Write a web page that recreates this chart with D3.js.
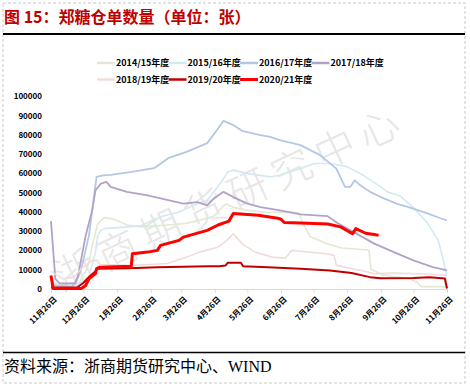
<!DOCTYPE html>
<html lang="zh">
  <head>
    <meta charset="UTF-8" />
    <script src="https://cdn.jsdelivr.net/npm/d3@7"></script>
    <title>郑糖仓单数量</title>
    <style>
      body {
        margin: 0;
        background: white;
      }
      .axis text {
        font-family: "Noto Sans CJK SC", "Noto Sans", sans-serif;
        font-weight: bold;
        font-size: 8px;
        fill: #000;
      }
      .axis path,
      .axis line {
        stroke: #d9d9d9;
      }
    </style>
  </head>

  <body>
    <script>
      /*------------------- data --------------------*/
      const seasons = [
        "2014/15年度",
        "2015/16年度",
        "2016/17年度",
        "2017/18年度",
        "2018/19年度",
        "2019/20年度",
        "2020/21年度",
      ];
      const colors = ["#e3e8d0", "#d3e9f1", "#b4c7e5", "#b3a2c7", "#f2dcdb", "#c00000", "#ff0000"];
      const widths = [1.6, 1.6, 1.8, 1.8, 1.6, 2, 3];

      const s1415 = [
        ["2020-11-26", 3000], ["2020-12-10", 2500], ["2020-12-22", 3000], ["2020-12-28", 9000],
        ["2020-12-31", 13700], ["2021-01-03", 22400], ["2021-01-08", 33500], ["2021-01-14", 36800],
        ["2021-01-23", 36000], ["2021-02-05", 32800], ["2021-02-18", 32000], ["2021-03-13", 33000],
        ["2021-03-30", 33800], ["2021-04-12", 35400], ["2021-04-25", 37500], ["2021-05-06", 44000],
        ["2021-05-14", 42000], ["2021-05-26", 40600], ["2021-06-14", 39500], ["2021-06-25", 39700],
        ["2021-07-12", 39500], ["2021-07-17", 33000], ["2021-07-23", 27000], ["2021-08-06", 23500],
        ["2021-08-21", 21000], ["2021-09-15", 20000], ["2021-09-17", 10000], ["2021-09-28", 7000],
        ["2021-10-23", 5000], ["2021-10-30", 3000], ["2021-11-02", 1000], ["2021-11-26", 1000],
      ];
      const s1516 = [
        ["2020-11-26", 1500], ["2020-12-18", 1000], ["2020-12-31", 6000], ["2021-01-06", 18900],
        ["2021-01-08", 27600], ["2021-01-11", 30200], ["2021-01-14", 31100], ["2021-02-23", 32800],
        ["2021-03-06", 37100], ["2021-03-24", 39700], ["2021-04-10", 44100], ["2021-04-19", 45800],
        ["2021-05-01", 54500], ["2021-05-08", 60600], ["2021-05-13", 61500], ["2021-05-26", 59700],
        ["2021-06-16", 58000], ["2021-06-25", 58800], ["2021-07-14", 62300], ["2021-07-27", 64900],
        ["2021-08-11", 64900], ["2021-08-26", 63200], ["2021-09-10", 58800], ["2021-09-26", 52800],
        ["2021-10-02", 50200], ["2021-10-14", 48000], ["2021-10-26", 42000], ["2021-11-08", 34000],
        ["2021-11-18", 25000], ["2021-11-22", 16000], ["2021-11-25", 8000], ["2021-11-26", 700],
      ];
      const s1617 = [
        ["2020-11-26", 2000], ["2020-12-04", 1500], ["2020-12-15", 1000], ["2020-12-19", 3000],
        ["2020-12-24", 10300], ["2020-12-31", 27600], ["2021-01-04", 45000], ["2021-01-07", 58000],
        ["2021-01-13", 58800], ["2021-01-20", 59000], ["2021-02-07", 60500], ["2021-03-01", 62500],
        ["2021-03-05", 64000], ["2021-03-14", 67700], ["2021-03-31", 71000], ["2021-04-19", 75500],
        ["2021-04-28", 82300], ["2021-05-04", 87100], ["2021-05-13", 84900], ["2021-05-21", 81900],
        ["2021-06-07", 79700], ["2021-06-16", 78800], ["2021-06-25", 77100], ["2021-07-14", 74500],
        ["2021-08-01", 69300], ["2021-08-16", 62300], ["2021-08-24", 52800], ["2021-08-29", 52800],
        ["2021-09-02", 56200], ["2021-09-07", 53600], ["2021-09-16", 50200], ["2021-09-26", 47500],
        ["2021-10-11", 44000], ["2021-10-23", 42000], ["2021-11-08", 39000], ["2021-11-20", 36500],
        ["2021-11-26", 35400],
      ];
      const s1718 = [
        ["2020-11-26", 35000], ["2020-11-28", 20000], ["2020-11-30", 5000], ["2020-12-04", 2600],
        ["2020-12-18", 2600], ["2020-12-21", 6800], ["2020-12-28", 27600], ["2021-01-03", 40600],
        ["2021-01-06", 51000], ["2021-01-11", 54500], ["2021-01-16", 55400], ["2021-01-20", 52800],
        ["2021-02-04", 50200], ["2021-02-23", 48400], ["2021-03-15", 45800], ["2021-03-28", 44100],
        ["2021-04-10", 44900], ["2021-04-19", 43200], ["2021-04-25", 46700], ["2021-05-04", 50200],
        ["2021-05-13", 47500], ["2021-05-26", 44100], ["2021-06-07", 42300], ["2021-06-25", 40600],
        ["2021-07-14", 38500], ["2021-08-08", 37600], ["2021-08-17", 34000], ["2021-09-01", 29300],
        ["2021-09-20", 23300], ["2021-10-08", 18900], ["2021-10-26", 14600], ["2021-11-13", 11100],
        ["2021-11-26", 9400],
      ];
      const s1819 = [
        ["2020-11-26", 9000], ["2020-11-30", 7500], ["2020-12-07", 5000], ["2020-12-17", 5900],
        ["2020-12-24", 10300], ["2021-01-03", 14600], ["2021-01-08", 14600], ["2021-01-10", 12500],
        ["2021-02-10", 12000], ["2021-03-13", 13000], ["2021-03-31", 16300], ["2021-04-12", 18900],
        ["2021-04-29", 21500], ["2021-05-07", 25000], ["2021-05-13", 28500], ["2021-05-21", 23300],
        ["2021-06-02", 18900], ["2021-06-18", 16300], ["2021-06-30", 15800], ["2021-07-06", 19800],
        ["2021-07-12", 19500], ["2021-08-06", 18100], ["2021-08-14", 17200], ["2021-08-16", 12000],
        ["2021-09-11", 9000], ["2021-09-20", 7700], ["2021-10-08", 8000], ["2021-11-08", 7500],
        ["2021-11-26", 6800],
      ];
      const s1920 = [
        ["2020-11-26", 500], ["2020-12-20", 500], ["2020-12-26", 3000], ["2020-12-31", 6000],
        ["2021-01-06", 9000], ["2021-01-08", 10300], ["2021-02-06", 10500], ["2021-03-04", 11000],
        ["2021-04-20", 11500], ["2021-04-30", 11500], ["2021-05-06", 12000], ["2021-05-08", 13400],
        ["2021-05-20", 13400], ["2021-05-22", 11600], ["2021-06-14", 11100], ["2021-07-14", 10300],
        ["2021-08-10", 9400], ["2021-08-30", 8000], ["2021-09-16", 5900], ["2021-09-26", 5300],
        ["2021-10-26", 5500], ["2021-11-10", 5900], ["2021-11-24", 5200], ["2021-11-26", 0],
      ];
      const s2021 = [
        ["2020-11-26", 6800], ["2020-11-28", 0], ["2020-12-24", 0], ["2020-12-28", 1600],
        ["2020-12-31", 5000], ["2021-01-06", 7700], ["2021-01-07", 10300], ["2021-01-10", 11100],
        ["2021-02-08", 11500], ["2021-02-09", 18100], ["2021-02-23", 18900], ["2021-03-04", 19800],
        ["2021-03-07", 22400], ["2021-03-24", 25000], ["2021-03-28", 26700], ["2021-04-19", 30200],
        ["2021-04-29", 33000], ["2021-05-09", 35000], ["2021-05-13", 38900], ["2021-06-05", 38000],
        ["2021-06-23", 36500], ["2021-06-26", 36000], ["2021-06-29", 34300], ["2021-07-14", 34000],
        ["2021-08-08", 33500], ["2021-08-20", 32000], ["2021-08-27", 29700], ["2021-08-31", 28500],
        ["2021-09-03", 31100], ["2021-09-12", 28700], ["2021-09-20", 28000], ["2021-09-24", 27600],
      ];
      const seriesData = [s1415, s1516, s1617, s1718, s1819, s1920, s2021];

      const yTicks = [0, 10000, 20000, 30000, 40000, 50000, 60000, 70000, 80000, 90000, 100000];
      const watermark = "浙商期货研究中心";

      /*------------------- layout --------------------*/
      const W = 470,
        H = 386;
      const parse = d3.timeParse("%Y-%m-%d");

      const svg = d3.select("body").append("svg").attr("width", W).attr("height", H);

      // dashed frame
      svg
        .append("rect")
        .attr("x", 3)
        .attr("y", 3)
        .attr("width", 462)
        .attr("height", 380)
        .attr("fill", "white")
        .attr("stroke", "#c8c8c8")
        .attr("stroke-dasharray", "3,2");

      // title
      svg
        .append("text")
        .attr("x", 4)
        .attr("y", 23)
        .attr("font-family", "'Noto Sans CJK SC', sans-serif")
        .attr("font-weight", "bold")
        .attr("font-size", 16)
        .attr("fill", "#c00000")
        .text("图 15：郑糖仓单数量（单位：张）");
      svg.append("line").attr("x1", 3).attr("x2", 465).attr("y1", 34).attr("y2", 34).attr("stroke", "#000").attr("stroke-width", 2);

      // footer
      svg.append("line").attr("x1", 3).attr("x2", 465).attr("y1", 352.5).attr("y2", 352.5).attr("stroke", "#000").attr("stroke-width", 1.5);
      svg
        .append("text")
        .attr("x", 4)
        .attr("y", 372)
        .attr("font-family", "'Liberation Serif', 'Noto Sans CJK SC', serif")
        .attr("font-size", 16)
        .attr("fill", "#000")
        .text("资料来源：浙商期货研究中心、WIND");

      /*------------------- scales --------------------*/
      const x = d3
        .scaleTime()
        .domain([parse("2020-11-26"), parse("2021-11-26")])
        .range([51, 447]);
      const y = d3.scaleLinear().domain([0, 100000]).range([288.5, 96]);

      // watermark
      svg
        .append("text")
        .attr("transform", "translate(62,292) rotate(-25)")
        .attr("font-family", "'Noto Sans CJK SC', sans-serif")
        .attr("font-weight", 300)
        .attr("font-size", 40)
        .attr("letter-spacing", 8)
        .attr("fill", "#e6e6e6")
        .text(watermark);

      // x axis
      const monthTicks = d3.range(13).map((i) => new Date(2020, 10 + i, 26));
      const xAxis = svg
        .append("g")
        .attr("class", "axis")
        .attr("transform", "translate(0,289)")
        .call(
          d3
            .axisBottom(x)
            .tickValues(monthTicks)
            .tickSize(4)
            .tickSizeOuter(0)
            .tickFormat((d) => d.getMonth() + 1 + "月26日")
        );
      xAxis
        .selectAll("text")
        .attr("text-anchor", "end")
        .attr("dx", 0)
        .attr("dy", 0)
        .attr("transform", "translate(1,6) rotate(-45)");

      // y axis (labels only)
      const yAxis = svg
        .append("g")
        .attr("class", "axis")
        .attr("transform", "translate(42,0)")
        .call(d3.axisLeft(y).tickValues(yTicks).tickSize(0).tickFormat(d3.format("d")));
      yAxis.select(".domain").remove();
      yAxis.selectAll("text").attr("x", 0).attr("dy", "0.35em");

      /*------------------- lines --------------------*/
      const line = d3
        .line()
        .x((d) => x(parse(d[0])))
        .y((d) => y(d[1]));

      svg
        .append("g")
        .selectAll("path")
        .data(seriesData)
        .enter()
        .append("path")
        .attr("d", (d) => line(d))
        .attr("fill", "none")
        .attr("stroke", (d, i) => colors[i])
        .attr("stroke-width", (d, i) => widths[i])
        .attr("stroke-linejoin", "round");

      /*------------------- legend --------------------*/
      const legend = svg
        .append("g")
        .selectAll("g")
        .data(seasons)
        .enter()
        .append("g")
        .attr("transform", (d, i) => `translate(${97 + (i % 4) * 71.5},${i < 4 ? 63 : 79.5})`);
      legend
        .append("line")
        .attr("x1", 0)
        .attr("x2", 18)
        .attr("stroke", (d, i) => colors[i])
        .attr("stroke-width", (d, i) => Math.max(widths[i], 2.5));
      legend
        .append("text")
        .attr("x", 19)
        .attr("dy", "0.35em")
        .attr("font-family", "'Noto Sans CJK SC', sans-serif")
        .attr("font-weight", "bold")
        .attr("font-size", 9)
        .text((d) => d);
    </script>
  </body>
</html>
